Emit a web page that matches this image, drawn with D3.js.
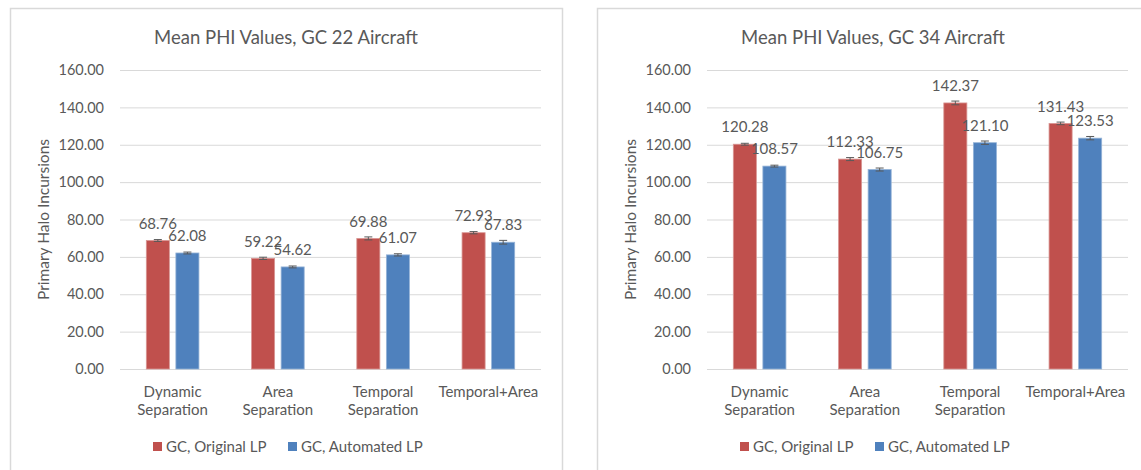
<!DOCTYPE html>
<html>
<head>
<meta charset="utf-8">
<script src="https://d3js.org/d3.v7.min.js"></script>
<style>
body { margin: 0; background: #fff; }
svg text { font-family: "Lato", "Open Sans", sans-serif; fill: #595959; }
</style>
</head>
<body>
<svg id="chart" width="1141" height="470"></svg>
<script>
// data
var categories = ["Dynamic Separation", "Area Separation", "Temporal Separation", "Temporal+Area"];
var seriesNames = ["GC, Original LP", "GC, Automated LP"];
var colors = ["#C0504D", "#4F81BD"];
var strokes = ["#d99694", "#95b3d7"];

var gc22Original = [68.76, 59.22, 69.88, 72.93];
var gc22Automated = [62.08, 54.62, 61.07, 67.83];
var gc22OriginalErr = [0.5, 0.6, 0.8, 0.6];
var gc22AutomatedErr = [0.5, 0.5, 0.6, 1.0];

var gc34Original = [120.28, 112.33, 142.37, 131.43];
var gc34Automated = [108.57, 106.75, 121.10, 123.53];
var gc34OriginalErr = [0.5, 0.8, 1.0, 0.7];
var gc34AutomatedErr = [0.5, 0.8, 0.9, 0.9];

var yTicks = [0, 20, 40, 60, 80, 100, 120, 140, 160];

var svg = d3.select("#chart");

function drawPanel(offsetX, title, vals, errs) {
  var g = svg.append("g").attr("transform", "translate(" + offsetX + ",0)");

  // panel frame
  g.append("rect")
    .attr("x", 10.5).attr("y", 8.5)
    .attr("width", 552).attr("height", 480)
    .attr("fill", "#fff").attr("stroke", "#d9d9d9").attr("stroke-width", 1.5);

  var y = d3.scaleLinear().domain([0, 160]).range([369, 70]);
  var x0 = d3.scaleBand().domain(categories).range([120, 541])
    .paddingInner(0.5).paddingOuter(0.25);
  var x1 = d3.scaleBand().domain([0, 1]).range([0, x0.bandwidth()])
    .paddingInner(0.22);

  // title
  g.append("text")
    .attr("x", 286).attr("y", 38)
    .attr("text-anchor", "middle").attr("dy", "0.35em")
    .style("font-size", "18.5px")
    .text(title);

  // gridlines + tick labels via axis
  var axis = d3.axisLeft(y).tickValues(yTicks)
    .tickFormat(d3.format(".2f"))
    .tickSize(-(541 - 120)).tickPadding(16);
  var ax = g.append("g").attr("transform", "translate(120,0)").call(axis);
  ax.select(".domain").remove();
  ax.selectAll(".tick line").attr("stroke", "#d9d9d9").attr("stroke-width", 1);
  ax.selectAll(".tick text").style("font-size", "14.5px")
    .style("font-family", "Lato, 'Open Sans', sans-serif").attr("fill", "#595959");

  // y axis title
  g.append("text")
    .attr("transform", "translate(44," + ((369 + 70) / 2) + ") rotate(-90)")
    .attr("text-anchor", "middle").attr("dy", "0.35em")
    .style("font-size", "15.5px")
    .text("Primary Halo Incursions");

  // bars
  var groups = g.selectAll(".grp").data(categories).enter().append("g")
    .attr("transform", function(d) { return "translate(" + x0(d) + ",0)"; });

  groups.each(function(cat, i) {
    var gg = d3.select(this);
    [0, 1].forEach(function(s) {
      var v = vals[s][i], e = errs[s][i];
      var bx = x1(s), bw = x1.bandwidth(), cx = bx + bw / 2;
      gg.append("rect")
        .attr("x", bx).attr("y", y(v))
        .attr("width", bw).attr("height", y(0) - y(v))
        .attr("fill", colors[s]).attr("stroke", strokes[s]).attr("stroke-width", 0.8);
      // error bar
      gg.append("line").attr("x1", cx).attr("x2", cx)
        .attr("y1", y(v - e)).attr("y2", y(v + e))
        .attr("stroke", "#595959").attr("stroke-width", 1);
      [v - e, v + e].forEach(function(t) {
        gg.append("line").attr("x1", cx - 4).attr("x2", cx + 4)
          .attr("y1", y(t)).attr("y2", y(t))
          .attr("stroke", "#595959").attr("stroke-width", 1);
      });
      // value label
      gg.append("text")
        .attr("x", cx).attr("y", y(v) - 17)
        .attr("text-anchor", "middle").attr("dy", "0.35em")
        .style("font-size", "15px")
        .text(d3.format(".2f")(v));
    });
  });

  // category labels
  g.selectAll(".cat").data(categories).enter().append("text")
    .attr("x", function(d) { return x0(d) + x0.bandwidth() / 2; })
    .attr("y", 392)
    .attr("text-anchor", "middle")
    .style("font-size", "15px")
    .each(function(d) {
      var words = d.split(" ");
      var t = d3.select(this);
      words.forEach(function(w, k) {
        t.append("tspan").attr("x", t.attr("x"))
          .attr("dy", k === 0 ? "0.35em" : "18px").text(w);
      });
    });

  // legend
  var lx = [153, 288];
  seriesNames.forEach(function(name, s) {
    g.append("rect").attr("x", lx[s]).attr("y", 442)
      .attr("width", 9).attr("height", 9).attr("fill", colors[s]);
    g.append("text").attr("x", lx[s] + 13).attr("y", 447)
      .attr("dy", "0.35em").style("font-size", "15px").text(name);
  });
}

drawPanel(0, "Mean PHI Values, GC 22 Aircraft",
  [gc22Original, gc22Automated], [gc22OriginalErr, gc22AutomatedErr]);
drawPanel(587, "Mean PHI Values, GC 34 Aircraft",
  [gc34Original, gc34Automated], [gc34OriginalErr, gc34AutomatedErr]);
</script>
</body>
</html>
